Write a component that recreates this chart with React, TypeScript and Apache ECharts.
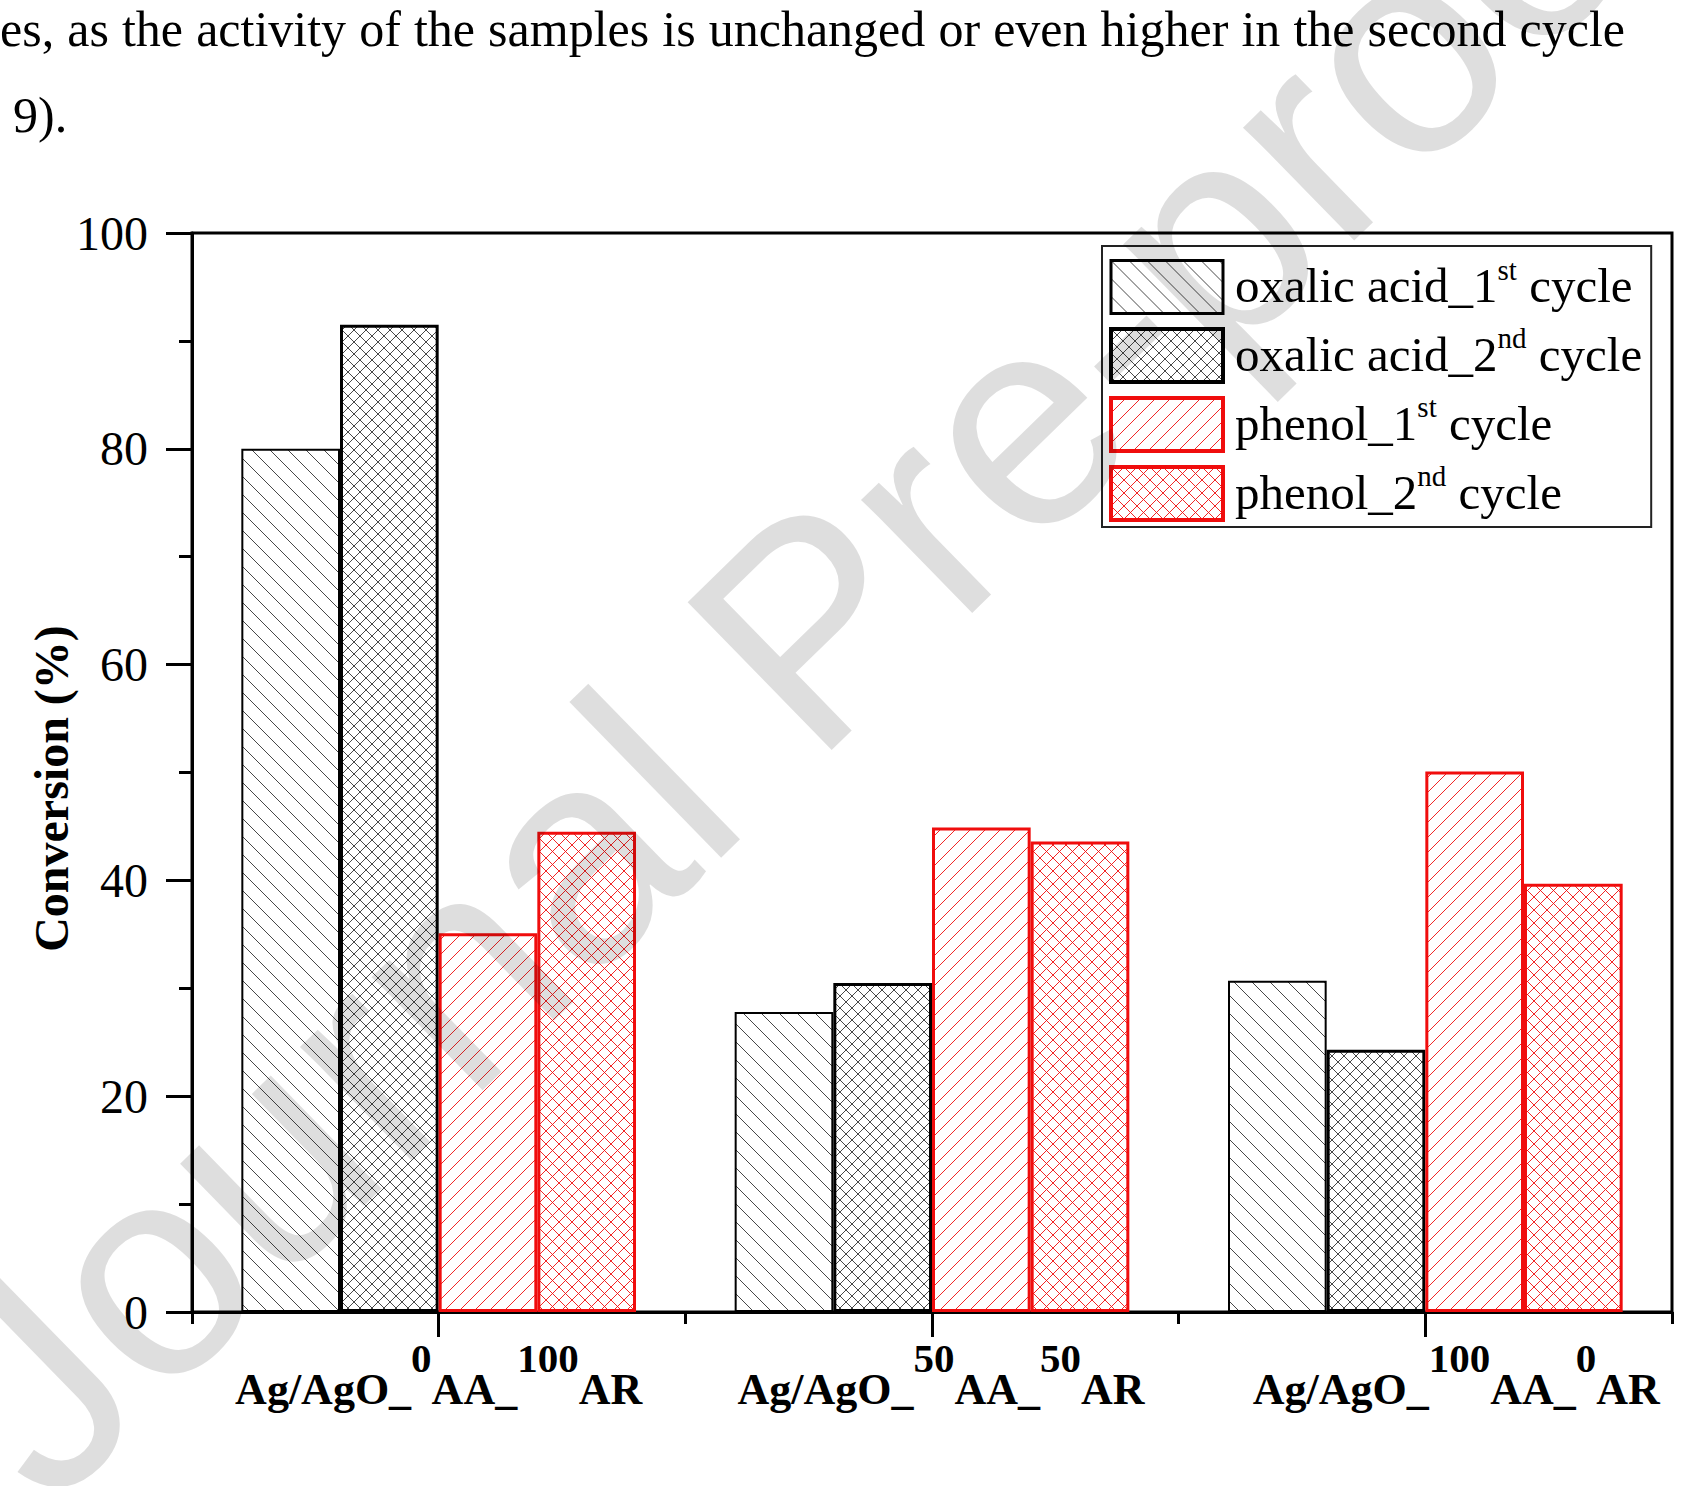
import React, { useEffect, useRef } from 'react';
import * as echarts from 'echarts';

// ---------- data ----------
const aaShare = ['0', '50', '100'];
const arShare = ['100', '50', '0'];
const categories = aaShare.map((a, i) => `Ag/AgO_${a}AA_${arShare[i]}AR`);

const oxalic1st = [80.0, 27.8, 30.7];
const oxalic2nd = [91.5, 30.5, 24.3];
const phenol1st = [35.1, 44.9, 50.1];
const phenol2nd = [44.5, 43.6, 39.7];

const seriesNames = [
  'oxalic acid_1st cycle',
  'oxalic acid_2nd cycle',
  'phenol_1st cycle',
  'phenol_2nd cycle',
];
const yAxisTitle = 'Conversion (%)';
const yMin = 0;
const yMax = 100;
const yStep = 20;

const paragraphLine1 = 'es, as the activity of the samples is unchanged or even higher in the second cycle';
const paragraphLine2 = '9).';
const watermarkText = 'Journal Pre-proof';

// ---------- styles ----------
const SERIF = '"Liberation Serif", "Times New Roman", serif';
const SANS = '"Liberation Sans", Arial, sans-serif';
const RED = '#f00d0d';

function hatch(size: number, color: string, width: number, back: boolean, fwd: boolean) {
  const s = size;
  let d = '';
  if (back) d += `M-2,-2L${s + 2},${s + 2}M${s - 2},-2L${s + 2},2M-2,${s - 2}L2,${s + 2}`;
  if (fwd) d += `M-2,${s + 2}L${s + 2},-2M-2,2L2,-2M${s - 2},${s + 2}L${s + 2},${s - 2}`;
  const svg = `<svg xmlns="http://www.w3.org/2000/svg" width="${s}" height="${s}"><rect width="${s}" height="${s}" fill="#ffffff"/><path d="${d}" stroke="${color}" stroke-width="${width}" fill="none"/></svg>`;
  return {
    image: 'data:image/svg+xml;charset=utf-8,' + encodeURIComponent(svg),
    repeat: 'repeat',
    imageWidth: s,
    imageHeight: s,
  };
}

function legendFormatter(name: string) {
  const m = name.match(/^(.*?\d)(st|nd|rd|th)\s(.*)$/);
  if (!m) return `{n|${name}}`;
  return `{n|${m[1]}}{sup|${m[2]}}{n|\u00a0${m[3]}}`;
}

export default function App() {
  const ref = useRef<HTMLDivElement>(null);

  useEffect(() => {
    if (!ref.current) return;
    const chart = echarts.init(ref.current, null, { renderer: 'svg' });

    // justified paragraph line (measured at runtime)
    const canvas = document.createElement('canvas');
    const ctx = canvas.getContext('2d')!;
    const paraFont = `50px ${SERIF}`;
    ctx.font = paraFont;
    const words = paragraphLine1.split(' ');
    const widths = words.map((w) => ctx.measureText(w).width);
    const total = widths.reduce((a, b) => a + b, 0);
    const lineWidth = 1625;
    const gap = (lineWidth - total) / (words.length - 1);
    let cx = 0;
    const paraEls: any[] = words.map((w, i) => {
      const el = {
        type: 'text',
        x: cx,
        y: 29,
        silent: true,
        style: {
          text: w,
          font: paraFont,
          fill: '#000',
          verticalAlign: 'middle',
          textVerticalAlign: 'middle',
        },
      };
      cx += widths[i] + gap;
      return el;
    });
    paraEls.push({
      type: 'text',
      x: 13,
      y: 115,
      silent: true,
      style: { text: paragraphLine2, font: paraFont, fill: '#000', verticalAlign: 'middle', textVerticalAlign: 'middle' },
    });

    const fills = [
      hatch(18, '#333', 0.9, true, false),
      hatch(12, '#333', 0.9, true, true),
      hatch(15, RED, 0.9, false, true),
      hatch(13, RED, 0.9, true, true),
    ];
    const borders = ['#000', '#000', RED, RED];
    const borderWidths = [2, 3, 3, 3];
    const legendBorderWidths = [3, 4, 4, 4];
    const values = [oxalic1st, oxalic2nd, phenol1st, phenol2nd];

    const option: any = {
      animation: false,
      backgroundColor: '#fff',
      grid: {
        left: 192,
        right: 29,
        top: 233,
        bottom: 174,
        show: true,
        borderColor: '#000',
        borderWidth: 3,
        backgroundColor: 'transparent',
        containLabel: false,
      },
      legend: {
        orient: 'vertical',
        left: 1102,
        top: 246,
        padding: [9, 9, 5, 7],
        itemGap: 8.5,
        itemWidth: 112,
        itemHeight: 53,
        icon: 'rect',
        selectedMode: false,
        borderColor: '#222',
        borderWidth: 2,
        backgroundColor: 'transparent',
        data: seriesNames.map((n, i) => ({
          name: n,
          itemStyle: { borderWidth: legendBorderWidths[i], borderColor: borders[i] },
        })),
        formatter: legendFormatter,
        textStyle: {
          fontFamily: SERIF,
          fontSize: 49,
          color: '#000',
          padding: [0, 0, 9, 7],
          rich: {
            n: { fontFamily: SERIF, fontSize: 49, color: '#000', lineHeight: 55, verticalAlign: 'bottom' },
            sup: { fontFamily: SERIF, fontSize: 29, color: '#000', verticalAlign: 'top' },
          },
        },
      },
      xAxis: [
        {
          type: 'category',
          data: categories,
          position: 'bottom',
          boundaryGap: true,
          axisLine: { show: true, onZero: false, lineStyle: { color: '#000', width: 3 } },
          axisTick: { show: true, alignWithLabel: false, length: 12, lineStyle: { color: '#000', width: 3 } },
          splitLine: { show: false },
          axisLabel: {
            interval: 0,
            margin: 25,
            formatter: (_v: string, idx: number) => {
              const pad = idx === 0 ? '' : `{pad${idx}| }`;
              return `${pad}{t|Ag/AgO_}{s|${aaShare[idx]}}{t|AA_}{s|${arShare[idx]}}{t|AR}`;
            },
            rich: {
              t: { fontFamily: SERIF, fontWeight: 'bold', fontSize: 44, color: '#000', lineHeight: 74, verticalAlign: 'bottom' },
              s: { fontFamily: SERIF, fontWeight: 'bold', fontSize: 41, color: '#000', verticalAlign: 'top' },
              pad1: { width: 18, fontSize: 10, verticalAlign: 'bottom' },
              pad2: { width: 62, fontSize: 10, verticalAlign: 'bottom' },
            },
          },
        },
        {
          type: 'category',
          data: categories,
          position: 'bottom',
          offset: 0,
          boundaryGap: true,
          axisLine: { show: false },
          axisTick: { show: true, alignWithLabel: true, length: 25, lineStyle: { color: '#000', width: 3 } },
          axisLabel: { show: false },
          splitLine: { show: false },
        },
      ],
      yAxis: {
        type: 'value',
        min: yMin,
        max: yMax,
        interval: yStep,
        name: yAxisTitle,
        nameLocation: 'middle',
        nameGap: 117,
        nameMoveOverlap: false,
        nameTextStyle: {
          fontFamily: SERIF,
          fontWeight: 'bold',
          fontSize: 48,
          color: '#000',
          padding: [0, 32, 0, 0],
        },
        axisLine: { show: true, lineStyle: { color: '#000', width: 3 } },
        axisTick: { show: true, length: 26, lineStyle: { color: '#000', width: 3 } },
        minorTick: { show: true, splitNumber: 2, length: 13, lineStyle: { color: '#000', width: 3 } },
        splitLine: { show: false },
        minorSplitLine: { show: false },
        axisLabel: { fontFamily: SERIF, fontSize: 48, color: '#000', margin: 44 },
      },
      series: seriesNames.map((n, i) => ({
        name: n,
        type: 'bar',
        xAxisIndex: 0,
        data: values[i],
        barGap: '0%',
        barCategoryGap: '20%',
        itemStyle: { color: fills[i], borderColor: borders[i], borderWidth: borderWidths[i] },
        emphasis: { disabled: true },
      })),
      graphic: [
        ...paraEls,
        {
          type: 'text',
          x: 82,
          y: 1545,
          rotation: 0.773,
          z: 100,
          silent: true,
          style: {
            text: watermarkText,
            font: `300px ${SANS}`,
            fill: 'rgba(0,0,0,0.13)',
            verticalAlign: 'bottom',
            textVerticalAlign: 'bottom',
          },
        },
      ],
    };

    chart.setOption(option);
    return () => chart.dispose();
  }, []);

  return (
    <div
      ref={ref}
      style={{ position: 'absolute', left: 0, top: 0, width: 1701, height: 1486, background: '#fff' }}
    />
  );
}
